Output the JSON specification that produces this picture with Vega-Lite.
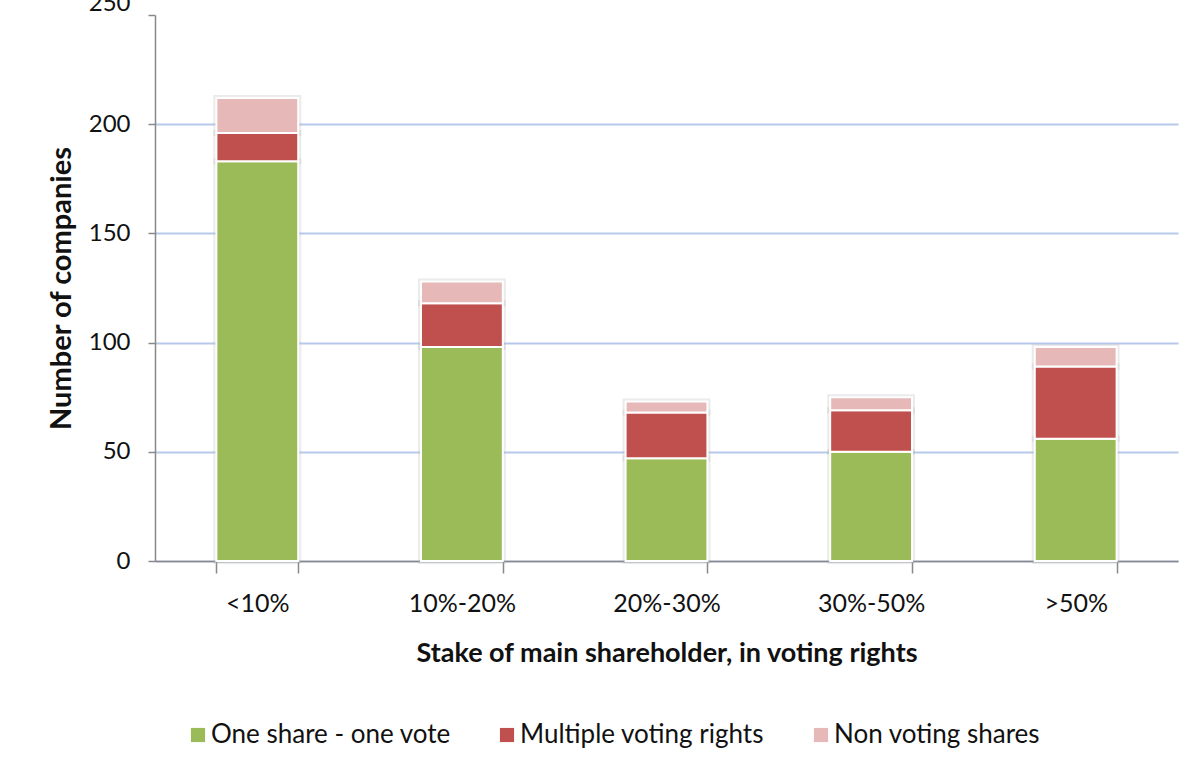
{
  "$schema": "https://vega.github.io/schema/vega-lite/v6.json",
  "width": 1023,
  "height": 546,
  "autosize": {"type": "none"},
  "padding": {"left": 155, "top": 15, "right": 16, "bottom": 213},
  "background": "white",
  "config": {
    "view": {"stroke": null},
    "font": "Lato",
    "axis": {"labelFont": "Lato", "titleFont": "Lato", "labelColor": "#111", "titleColor": "#111"}
  },
  "data": {
    "values": [
      {"stake": "<10%", "type": "One share - one vote", "ord": 1, "n": 183},
      {"stake": "<10%", "type": "Multiple voting rights", "ord": 2, "n": 13},
      {"stake": "<10%", "type": "Non voting shares", "ord": 3, "n": 16},
      {"stake": "10%-20%", "type": "One share - one vote", "ord": 1, "n": 98},
      {"stake": "10%-20%", "type": "Multiple voting rights", "ord": 2, "n": 20},
      {"stake": "10%-20%", "type": "Non voting shares", "ord": 3, "n": 10},
      {"stake": "20%-30%", "type": "One share - one vote", "ord": 1, "n": 47},
      {"stake": "20%-30%", "type": "Multiple voting rights", "ord": 2, "n": 21},
      {"stake": "20%-30%", "type": "Non voting shares", "ord": 3, "n": 5},
      {"stake": "30%-50%", "type": "One share - one vote", "ord": 1, "n": 50},
      {"stake": "30%-50%", "type": "Multiple voting rights", "ord": 2, "n": 19},
      {"stake": "30%-50%", "type": "Non voting shares", "ord": 3, "n": 6},
      {"stake": ">50%", "type": "One share - one vote", "ord": 1, "n": 56},
      {"stake": ">50%", "type": "Multiple voting rights", "ord": 2, "n": 33},
      {"stake": ">50%", "type": "Non voting shares", "ord": 3, "n": 9}
    ]
  },
  "encoding": {
    "x": {
      "field": "stake",
      "type": "nominal",
      "sort": ["<10%", "10%-20%", "20%-30%", "30%-50%", ">50%"],
      "scale": {"paddingInner": 0.6, "paddingOuter": 0.3},
      "title": "Stake of main shareholder, in voting rights",
      "axis": {
        "labelAngle": 0,
        "labelFontSize": 25,
        "labelPadding": 18,
        "tickBand": "extent",
        "tickSize": 12,
        "tickColor": "#888",
        "domainColor": "#888",
        "domainWidth": 1.5,
        "tickWidth": 1.5,
        "titleFontSize": 27,
        "titleFontWeight": "bold",
        "titlePadding": 24
      }
    },
    "y": {
      "field": "n",
      "type": "quantitative",
      "stack": "zero",
      "scale": {"domain": [0, 250], "nice": false},
      "title": "Number of companies",
      "axis": {
        "values": [0, 50, 100, 150, 200, 250],
        "labelFontSize": 24,
        "labelPadding": 18,
        "labelOffset": {"condition": {"test": "datum.value == 250", "value": -12}, "value": 0},
        "tickSize": 7,
        "tickColor": "#888",
        "domainColor": "#888",
        "domainWidth": 1.5,
        "tickWidth": 1.5,
        "gridColor": "#b7c9ea",
        "gridWidth": 2,
        "gridOpacity": {"condition": {"test": "datum.value == 250", "value": 0}, "value": 1},
        "titleFontSize": 29,
        "titleFontWeight": "bold",
        "titlePadding": 12
      }
    },
    "order": {"field": "ord", "type": "quantitative"}
  },
  "layer": [
    {
      "mark": {"type": "bar", "fill": "white", "stroke": "#b0b0b0", "strokeWidth": 6, "strokeOpacity": 0.25}
    },
    {
      "mark": {"type": "bar", "stroke": "white", "strokeWidth": 2},
      "encoding": {
        "color": {
          "field": "type",
          "type": "nominal",
          "scale": {
            "domain": ["One share - one vote", "Multiple voting rights", "Non voting shares"],
            "range": ["#9bbb59", "#c0504d", "#e6b9b8"]
          },
          "legend": {
            "title": null,
            "orient": "none",
            "legendX": 30,
            "legendY": 707,
            "direction": "horizontal",
            "symbolType": "square",
            "symbolSize": 200,
            "symbolStrokeWidth": 0,
            "labelFontSize": 26,
            "labelFont": "Lato",
            "labelColor": "#111",
            "labelLimit": 500,
            "columnPadding": 43,
            "labelOffset": 0
          }
        }
      }
    }
  ]
}
